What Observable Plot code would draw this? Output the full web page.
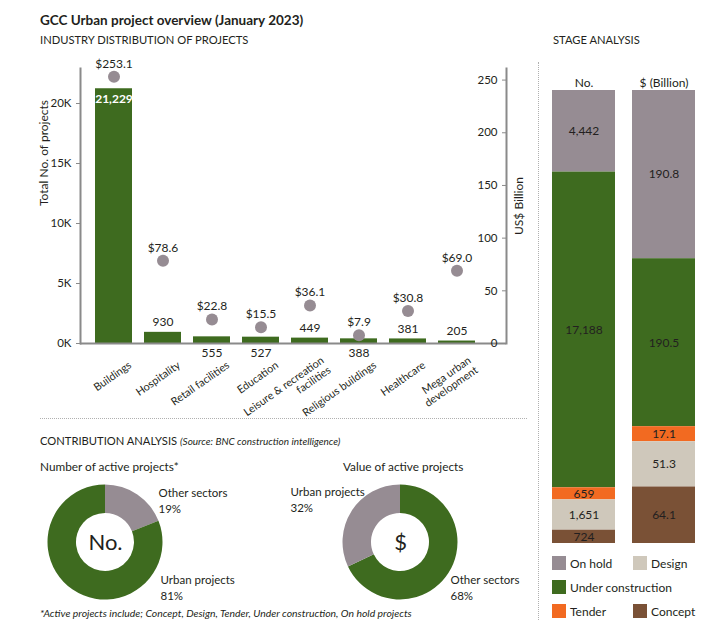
<!DOCTYPE html>
<html><head><meta charset="utf-8">
<script src="https://cdn.jsdelivr.net/npm/d3@7"></script>
<script src="https://cdn.jsdelivr.net/npm/@observablehq/plot@0.6"></script>
<style>
body{margin:0;background:#fff;}
#root{position:relative;width:704px;height:638px;overflow:hidden;background:#fff;font-family:"Liberation Sans Narrow","Lato",sans-serif;color:#231f20;}
.abs{position:absolute;white-space:nowrap;line-height:1;}
.plot{position:absolute;}
.vsep{position:absolute;left:538px;top:62px;height:558px;border-left:1px dotted #b0b0b0;}
.hsep{position:absolute;left:40px;top:418px;width:487px;border-top:1px dotted #b0b0b0;}
.legend{position:absolute;left:552px;top:556px;width:162px;display:flex;flex-wrap:wrap;row-gap:10px;font-size:12px;}
.legend .item{display:flex;align-items:center;min-width:81px;height:14px;}
.legend .sw{width:14px;height:14px;margin-right:4px;}
</style></head><body><div id="root"></div>
<script>
// ---------- data ----------
const industries = ["Buildings","Hospitality","Retail facilities","Education","Leisure & recreation facilities","Religious buildings","Healthcare","Mega urban development"];
const industryTickLabels = ["Buildings","Hospitality","Retail facilities","Education","Leisure & recreation\nfacilities","Religious buildings","Healthcare","Mega urban\ndevelopment"];
const projectCounts = [21229,930,555,527,449,388,381,205];
const projectValues = [253.1,78.6,22.8,15.5,36.1,7.9,30.8,69.0];
const countTicks = [0,5000,10000,15000,20000];
const valueTicks = [0,50,100,150,200,250];
const labelBelow = ["Retail facilities","Education","Religious buildings"];

const stages = ["On hold","Under construction","Tender","Design","Concept"];
const stageCounts = [4442,17188,659,1651,724];
const stageValues = [190.8,190.5,17.1,51.3,64.1];
const stageBars = ["No.","$ (Billion)"];
const legendOrder = ["On hold","Design","Under construction","Tender","Concept"];

const donutNoLabels = ["Other sectors","Urban projects"];
const donutNoShares = [19,81];
const donutValLabels = ["Other sectors","Urban projects"];
const donutValShares = [68,32];

// ---------- style ----------
const FONT = '"Liberation Sans Narrow","Lato",sans-serif';
const GREEN="#3e6b1f", GRAY="#968c93", BEIGE="#cfc8bb", ORANGE="#f26a21", BROWN="#7a5136", AXIS="#8a8a8a", INK="#231f20";
const stageColors = [GRAY, GREEN, ORANGE, BEIGE, BROWN];

const root = document.getElementById("root");
function addText(txt, left, top, css){const d=document.createElement("div");d.className="abs";d.style.left=left+"px";d.style.top=top+"px";d.style.cssText+=css;d.innerHTML=txt;root.appendChild(d);return d;}
function addPlot(svg,left,top){svg.classList.add("plot");svg.style.left=left+"px";svg.style.top=top+"px";root.appendChild(svg);}

addText("GCC Urban project overview (January 2023)",40,13.5,"font-size:13.5px;font-weight:bold;");
addText("INDUSTRY DISTRIBUTION OF PROJECTS",40,34,"font-size:11.2px;");
addText("STAGE ANALYSIS",553,34,"font-size:11.2px;");
addText('CONTRIBUTION ANALYSIS <span style="font-style:italic;font-size:10px">(Source: BNC construction intelligence)</span>',40,435,"font-size:11.2px;");
addText("Number of active projects*",40,461,"font-size:11.8px;");
addText("Value of active projects",343,461,"font-size:11.8px;");
addText("*Active projects include; Concept, Design, Tender, Under construction, On hold projects",40,608,"font-size:10.4px;font-style:italic;");
const vs=document.createElement("div");vs.className="vsep";root.appendChild(vs);
const hs=document.createElement("div");hs.className="hsep";root.appendChild(hs);

// ---------- industry bar chart ----------
const barData = industries.map((c,i)=>({c, n:projectCounts[i], v:projectValues[i], tick:industryTickLabels[i]}));
const maxN = d3.max(projectCounts);
const fmtN = d3.format(",");
const tickMap = new Map(barData.map(d=>[d.c,d.tick]));
const baseStyle = {fontFamily:FONT, fontSize:"12px", color:INK, background:"transparent", overflow:"visible"};

const barPlot = Plot.plot({
  width:540, height:420, marginLeft:80, marginRight:34, marginTop:68, marginBottom:77,
  style:baseStyle,
  x:{type:"band", domain:industries, padding:0.245, insetLeft:2, insetRight:19, axis:null},
  y:{domain:[0,22917], axis:null},
  marks:[
    Plot.barY(barData,{x:"c", y:"n", fill:GREEN}),
    Plot.frame({anchor:"left", stroke:AXIS, strokeWidth:2}),
    Plot.ruleY([0],{stroke:AXIS, strokeWidth:2}),
    Plot.axisY({ticks:countTicks, tickFormat:d=>d/1000+"K", tickSize:4, stroke:AXIS, label:null, fontSize:11.5}),
    Plot.axisX({tickSize:0, tickRotate:-35, tickFormat:d=>tickMap.get(d), dx:16, dy:8, label:null, fontSize:10.8, lineHeight:1.1}),
    Plot.text(["Total No. of projects"],{frameAnchor:"left", rotate:-90, dx:-36, fontSize:12}),
    Plot.text(barData.filter(d=>d.n===maxN),{x:"c", y:"n", text:d=>fmtN(d.n), fill:"white", dy:10, fontSize:12, fontWeight:"bold"}),
    Plot.text(barData.filter(d=>d.n!==maxN && !labelBelow.includes(d.c)),{x:"c", y:"n", text:d=>fmtN(d.n), dy:-10, fontSize:12}),
    Plot.text(barData.filter(d=>labelBelow.includes(d.c)),{x:"c", y:0, text:d=>fmtN(d.n), dy:10, fontSize:12})
  ]
});
addPlot(barPlot,0,0);

const valPlot = Plot.plot({
  width:540, height:420, marginLeft:506, marginRight:0, marginTop:68, marginBottom:77,
  style:baseStyle,
  x:{type:"band", domain:industries, padding:0.245, range:[82,487], axis:null},
  y:{domain:[0,261], axis:null},
  marks:[
    Plot.frame({anchor:"left", stroke:AXIS, strokeWidth:2}),
    Plot.axisY({ticks:valueTicks, tickSize:4, stroke:AXIS, label:null, fontSize:11.5}),
    Plot.text(["US$ Billion"],{frameAnchor:"middle", rotate:-90, dx:-4, fontSize:12}),
    Plot.dot(barData,{x:"c", y:"v", r:6, fill:GRAY}),
    Plot.text(barData,{x:"c", y:"v", text:d=>"$"+d.v.toFixed(1), dy:-13, fontSize:12})
  ]
});
addPlot(valPlot,0,0);

// ---------- stage analysis ----------
const stageData = [];
stageBars.forEach((b,bi)=>stages.forEach((s,si)=>{
  const v = bi===0 ? stageCounts[si] : stageValues[si];
  stageData.push({bar:b, stage:s, value:v, label: bi===0 ? fmtN(v) : v.toFixed(1)});
}));
const stackOrder = stages.slice().reverse();
const stagePlot = Plot.plot({
  width:164, height:490, marginLeft:12, marginRight:9, marginTop:30, marginBottom:7,
  style:baseStyle,
  x:{domain:stageBars, paddingInner:0.2125, paddingOuter:0, axis:null},
  y:{axis:null},
  color:{domain:stages, range:stageColors},
  marks:[
    Plot.barY(stageData, Plot.stackY({x:"bar", y:"value", fill:"stage", order:stackOrder, offset:"normalize"})),
    Plot.text(stageData, Plot.stackY({x:"bar", y:"value", z:"stage", order:stackOrder, offset:"normalize", text:"label", fill:INK, fontSize:12})),
    Plot.axisX({anchor:"top", tickSize:0, tickPadding:4, label:null, fontSize:12})
  ]
});
addPlot(stagePlot,540,60);

const leg=document.createElement("div");leg.className="legend";
legendOrder.forEach(s=>{const it=document.createElement("div");it.className="item";
  it.innerHTML=`<span class="sw" style="background:${stageColors[stages.indexOf(s)]}"></span><span>${s}</span>`;leg.appendChild(it);});
root.appendChild(leg);

// ---------- donuts ----------
function donutMark(shares, colors){
  return (index, scales, values, dims) => {
    const cx = dims.marginLeft + (dims.width - dims.marginLeft - dims.marginRight)/2;
    const cy = dims.marginTop + (dims.height - dims.marginTop - dims.marginBottom)/2;
    const arcs = d3.pie().sort(null)(shares);
    const arc = d3.arc().innerRadius(29).outerRadius(57.5);
    const g = d3.create("svg:g").attr("transform",`translate(${cx},${cy})`);
    g.selectAll("path").data(arcs).join("path").attr("d",arc).attr("fill",(d,i)=>colors[i]);
    return g.node();
  };
}
function donutPlot(labels, shares, colors, center, marginRight, labelPos){
  const items = labels.map((l,i)=>({t:l+"\n"+shares[i]+"%"}));
  return Plot.plot({
    width:260, height:130, margin:0, marginRight,
    style:baseStyle,
    marks:[
      donutMark(shares, colors),
      Plot.text([center],{frameAnchor:"middle", fontSize:22}),
      ...items.map((d,i)=>Plot.text([d],{text:"t", frameAnchor:"middle", textAnchor:"start", lineAnchor:"middle", lineHeight:1.42, dx:labelPos[i][0], dy:labelPos[i][1], fontSize:11.5}))
    ]
  });
}
addPlot(donutPlot(donutNoLabels, donutNoShares, [GRAY, GREEN], "No.", 50, [[53,-43],[55,44]]), 0, 477);
addPlot(donutPlot(donutValLabels, donutValShares, [GREEN, GRAY], "$", 20, [[50,44],[-110,-44]]), 280, 477);
</script></body></html>
